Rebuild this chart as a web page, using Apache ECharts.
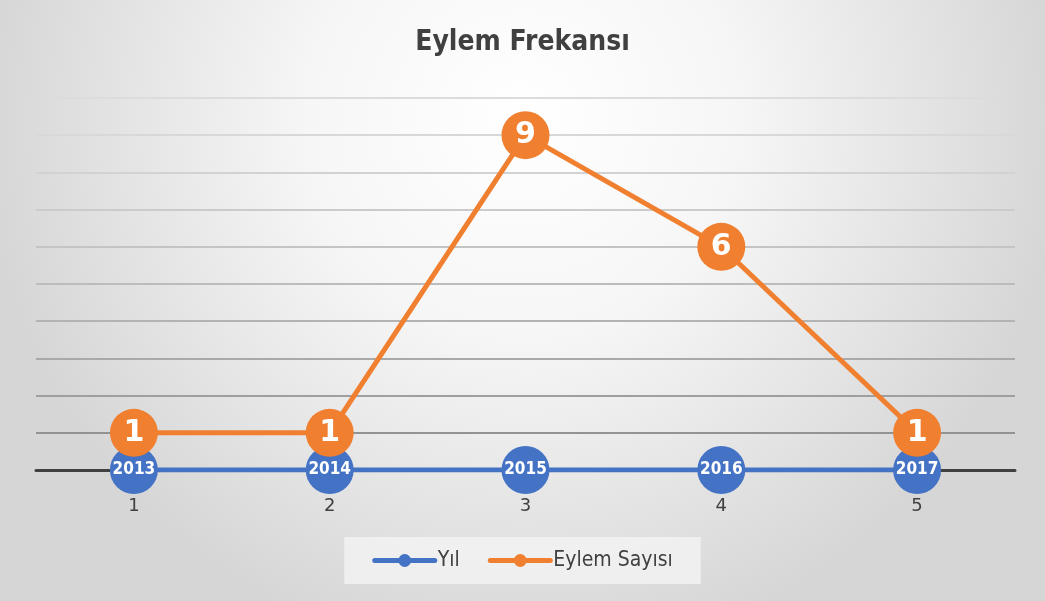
<!DOCTYPE html>
<html>
<head>
<meta charset="utf-8">
<script src="https://cdn.jsdelivr.net/npm/echarts@6/dist/echarts.min.js"></script>
<style>
html,body{margin:0;padding:0;width:1045px;height:601px;overflow:hidden;}
#c{width:1045px;height:601px;}
</style>
</head>
<body>
<div id="c"></div>
<script>
var categories = ['1', '2', '3', '4', '5'];
var years = ['2013', '2014', '2015', '2016', '2017'];
var yilValues = [0, 0, 0, 0, 0];
var eylemValues = [1, 1, 9, 6, 1];
var gridColors = ['#8a8a8a', '#939393', '#9f9f9f', '#a9a9a9', '#b3b3b3', '#bcbcbc', '#c4c4c4', '#cbcbcb', '#d2d2d2', '#d8d8d8', '#dcdcdc'];

var chart = echarts.init(document.getElementById('c'));
chart.setOption({
  backgroundColor: {
    type: 'radial', x: 0.5, y: 0.2, r: 0.9,
    colorStops: [
      {offset: 0, color: '#ffffff'},
      {offset: 0.4, color: '#f6f6f6'},
      {offset: 1, color: '#d6d6d6'}
    ]
  },
  title: {
    text: 'Eylem Frekansı',
    left: 'center',
    top: 24,
    textStyle: {fontFamily: 'DejaVu Sans Condensed', fontSize: 28, fontWeight: 'bold', color: '#404040'}
  },
  legend: {
    left: 'center',
    top: 537,
    backgroundColor: 'rgba(242,242,242,0.85)',
    padding: [13, 28],
    itemWidth: 60,
    itemHeight: 16,
    itemGap: 28,
    lineStyle: {width: 5, cap: 'round'},
    textStyle: {fontFamily: 'DejaVu Sans Condensed', fontSize: 21, color: '#404040', padding: [0, 0, 0, -2]},
    data: ['Yıl', 'Eylem Sayısı']
  },
  grid: {left: 36, right: 30, top: 98, bottom: 131},
  xAxis: {
    type: 'category',
    data: categories,
    boundaryGap: true,
    axisLine: {lineStyle: {color: '#404040', width: 3}},
    axisTick: {show: false},
    axisLabel: {fontFamily: 'DejaVu Sans', fontSize: 18, color: '#404040', margin: 27}
  },
  yAxis: {
    type: 'value',
    min: 0, max: 10, interval: 1,
    axisLabel: {show: false},
    axisLine: {show: false},
    axisTick: {show: false},
    splitLine: {lineStyle: {color: gridColors, width: 2}}
  },
  series: [
    {
      name: 'Yıl',
      type: 'line',
      data: yilValues,
      color: '#4472C4',
      symbol: 'circle',
      symbolSize: 48,
      lineStyle: {width: 5, color: '#4472C4'},
      itemStyle: {color: '#4472C4'},
      label: {
        show: true, position: 'inside',
        formatter: function (p) { return years[p.dataIndex]; },
        fontFamily: 'DejaVu Sans Condensed', fontWeight: 'bold', fontSize: 17, color: '#ffffff'
      },
      z: 2
    },
    {
      name: 'Eylem Sayısı',
      type: 'line',
      data: eylemValues,
      color: '#F07F2F',
      symbol: 'circle',
      symbolSize: 48,
      lineStyle: {width: 5, color: '#F07F2F'},
      itemStyle: {color: '#F07F2F'},
      label: {
        show: true, position: 'inside',
        fontFamily: 'DejaVu Sans', fontWeight: 'bold', fontSize: 30, color: '#ffffff'
      },
      z: 3
    }
  ]
});
</script>
</body>
</html>
